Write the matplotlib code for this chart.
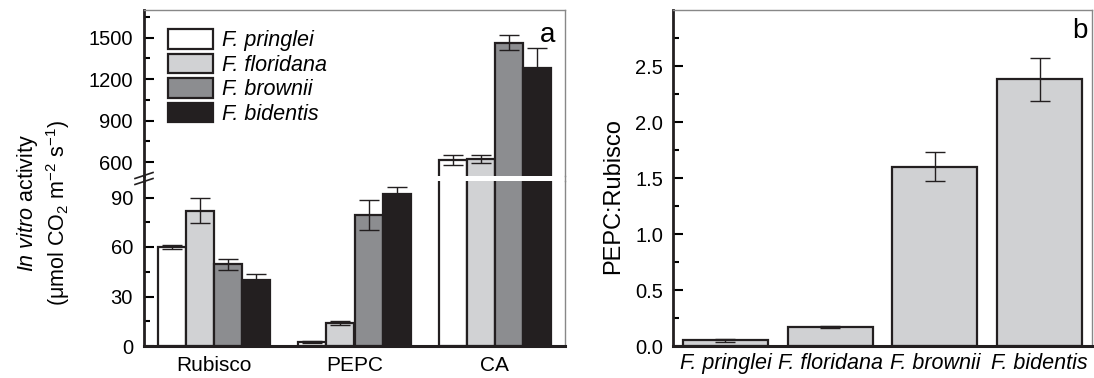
import matplotlib
matplotlib.use("Agg")
import matplotlib.pyplot as plt
from matplotlib.lines import Line2D
import numpy as np

plt.rcParams['font.family'] = ['Liberation Sans', 'DejaVu Sans']
plt.rcParams['mathtext.fontset'] = 'custom'
plt.rcParams['mathtext.rm'] = 'Liberation Sans'
plt.rcParams['mathtext.it'] = 'Liberation Sans:italic'

# datos
enzimas = ['Rubisco', 'PEPC', 'CA']
especies = ['F. pringlei', 'F. floridana', 'F. brownii', 'F. bidentis']
actividad = {
    'F. pringlei': [60, 2.5, 614],
    'F. floridana': [82, 14, 623],
    'F. brownii': [49.5, 79.5, 1464],
    'F. bidentis': [40, 92, 1283],
}
error_act = {
    'F. pringlei': [1, 0.5, 37],
    'F. floridana': [7.5, 1, 28],
    'F. brownii': [3.5, 9, 53],
    'F. bidentis': [3.5, 4.5, 140],
}
ratio_pepc_rubisco = [0.05, 0.17, 1.60, 2.38]
error_ratio = [0.01, 0.01, 0.13, 0.19]

colores = ['#ffffff', '#d1d2d4', '#8c8d90', '#231f20']
borde = '#231f20'
W, H = 1094, 378

fig = plt.figure(figsize=(W / 100, H / 100), dpi=100)

def fx(px):
    return px / W

def fy(py):
    return 1 - py / H

# panel a: eje partido
ax_lo = fig.add_axes([fx(144), fy(346), fx(565) - fx(144), fy(181) - fy(346)])
ax_hi = fig.add_axes([fx(144), fy(176), fx(565) - fx(144), fy(10) - fy(176)])

x = np.arange(len(enzimas))
ancho = 0.2
handles = []
for i, esp in enumerate(especies):
    pos = x + (i - 1.5) * ancho
    for ax in (ax_lo, ax_hi):
        b = ax.bar(pos, actividad[esp], ancho, color=colores[i], edgecolor=borde,
                   linewidth=1.6, label=esp, zorder=2)
        ax.errorbar(pos, actividad[esp], yerr=error_act[esp], fmt='none',
                    ecolor=borde, elinewidth=1, capsize=7, capthick=1, zorder=3)
    handles.append(b)

ax_lo.set_ylim(0, 100)
ax_hi.set_ylim(500, 1700)
ax_lo.set_yticks([0, 30, 60, 90])
ax_lo.set_yticks([15, 45, 75], minor=True)
ax_hi.set_yticks([600, 900, 1200, 1500])
ax_hi.set_yticks([750, 1050, 1350, 1650], minor=True)
for ax in (ax_lo, ax_hi):
    ax.set_xlim(-0.5, 2.5)
    ax.tick_params(axis='y', which='major', direction='in', length=7, width=1.5, labelsize=14.5, pad=8)
    ax.tick_params(axis='y', which='minor', direction='in', length=4, width=1.5)
    ax.spines['left'].set_linewidth(2)
    ax.spines['left'].set_color(borde)
    ax.spines['right'].set_linewidth(1)
    ax.spines['right'].set_color('#888888')
ax_lo.set_xticks(x)
ax_lo.set_xticklabels(enzimas, fontsize=15)
ax_lo.tick_params(axis='x', length=0, pad=7)
ax_lo.spines['bottom'].set_linewidth(2.2)
ax_lo.spines['bottom'].set_color(borde)
ax_lo.spines['top'].set_visible(False)
ax_hi.spines['bottom'].set_visible(False)
ax_hi.spines['top'].set_linewidth(1)
ax_hi.spines['top'].set_color('#888888')
ax_hi.set_xticks([])

# continuidad de los ejes en el corte y marca //
fig.add_artist(Line2D([fx(144), fx(144)], [fy(181), fy(176)], color=borde, lw=2))
fig.add_artist(Line2D([fx(565), fx(565)], [fy(181), fy(176)], color='#888888', lw=1))
for dy in (-3, 3):
    fig.add_artist(Line2D([fx(135), fx(153)], [fy(181.5 + dy), fy(175.5 + dy)], color=borde, lw=1.2))

ax_hi.legend(handles=handles, labels=especies, loc='upper left', bbox_to_anchor=(0.057, 0.884),
             frameon=False, borderpad=0, borderaxespad=0, handlelength=2.1, handleheight=1.0,
             labelspacing=0.12, handletextpad=0.4, prop={'style': 'italic', 'size': 15.5})
ax_hi.text(0.976, 0.807, 'a', transform=ax_hi.transAxes, ha='right', va='baseline', fontsize=20)

fig.text(fx(27), fy(203), r'$\mathit{In\ vitro}$ activity', rotation=90, ha='center', va='center', fontsize=15.5)
fig.text(fx(58), fy(213), r'($\mathrm{\mu}$mol CO$_2$ m$^{-2}$ s$^{-1}$)', rotation=90,
         ha='center', va='center', fontsize=15.5)

# panel b
ax_b = fig.add_axes([fx(673), fy(346), fx(1092) - fx(673), fy(10) - fy(346)])
xb = np.arange(len(especies))
ax_b.bar(xb, ratio_pepc_rubisco, 0.81, color='#d0d1d3', edgecolor=borde, linewidth=1.6, zorder=2)
ax_b.errorbar(xb, ratio_pepc_rubisco, yerr=error_ratio, fmt='none', ecolor=borde,
              elinewidth=1, capsize=7, capthick=1, zorder=3)
ax_b.set_xlim(-0.5, 3.5)
ax_b.set_ylim(0, 3.0)
ax_b.set_yticks([0, 0.5, 1.0, 1.5, 2.0, 2.5])
ax_b.set_yticks([0.25, 0.75, 1.25, 1.75, 2.25, 2.75], minor=True)
ax_b.set_yticklabels(['0.0', '0.5', '1.0', '1.5', '2.0', '2.5'])
ax_b.tick_params(axis='y', which='major', direction='in', length=7, width=1.5, labelsize=14.5, pad=7)
ax_b.tick_params(axis='y', which='minor', direction='in', length=4, width=1.5)
ax_b.set_xticks(xb)
ax_b.set_xticklabels(especies, fontsize=15.5, style='italic')
ax_b.tick_params(axis='x', length=0, pad=5)
ax_b.spines['left'].set_linewidth(2)
ax_b.spines['left'].set_color(borde)
ax_b.spines['bottom'].set_linewidth(2.2)
ax_b.spines['bottom'].set_color(borde)
for s in ('top', 'right'):
    ax_b.spines[s].set_linewidth(1)
    ax_b.spines[s].set_color('#888888')
fig.text(fx(613), fy(196), 'PEPC:Rubisco', rotation=90, ha='center', va='center', fontsize=17)
ax_b.text(0.990, 0.917, 'b', transform=ax_b.transAxes, ha='right', va='baseline', fontsize=20)

fig.savefig('out.png', dpi=100)
